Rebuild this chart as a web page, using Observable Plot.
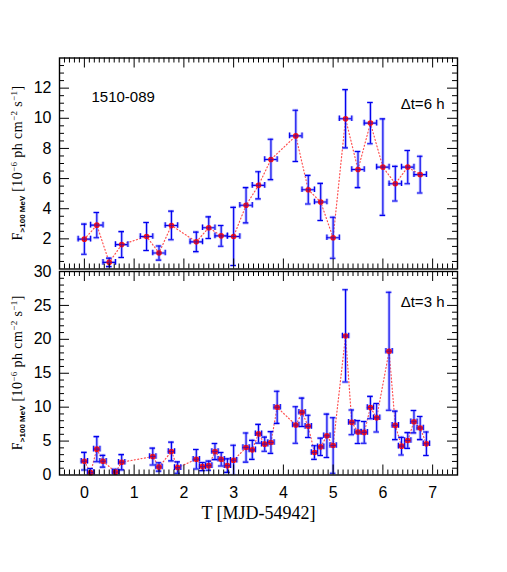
<!DOCTYPE html>
<html><head><meta charset="utf-8">
<script src="https://cdn.jsdelivr.net/npm/d3@7"></script>
<script src="https://cdn.jsdelivr.net/npm/@observablehq/plot@0.6"></script>
<style>
body{margin:0;background:#fff;}
#chart{position:relative;width:507px;height:572px;background:#fff;overflow:hidden;}
#chart svg{position:absolute;left:0;}
</style></head><body><div id="chart"></div>
<script>
// ---- Data: Δt = 6 h light curve (top panel) ----
const t6 = [0, 0.25, 0.5, 0.75, 1.25, 1.5, 1.75, 2.25, 2.5, 2.75, 3.0, 3.25, 3.5, 3.75, 4.25, 4.5, 4.75, 5.0, 5.25, 5.5, 5.75, 6.0, 6.25, 6.5, 6.75];
const f6 = [1.98, 2.91, 0.44, 1.62, 2.16, 1.06, 2.89, 1.80, 2.74, 2.20, 2.16, 4.23, 5.55, 7.27, 8.83, 5.26, 4.45, 2.07, 9.97, 6.60, 9.68, 6.76, 5.66, 6.76, 6.26];
const e6 = [1.00, 0.84, 0.28, 0.86, 0.93, 0.47, 0.95, 0.65, 0.72, 0.69, 1.93, 1.17, 0.90, 1.34, 1.70, 0.95, 1.23, 1.36, 1.93, 1.20, 1.37, 3.20, 1.15, 1.10, 1.22];
const halfBin6 = 0.125;

// ---- Data: Δt = 3 h light curve (bottom panel) ----
const t3 = [0, 0.125, 0.25, 0.375, 0.625, 0.75, 1.375, 1.5, 1.75, 1.875, 2.25, 2.375, 2.5, 2.625, 2.75, 2.875, 3.0, 3.25, 3.375, 3.5, 3.625, 3.75, 3.875, 4.25, 4.375, 4.5, 4.625, 4.75, 4.875, 5.0, 5.25, 5.375, 5.5, 5.625, 5.75, 5.875, 6.125, 6.25, 6.375, 6.5, 6.625, 6.75, 6.875];
const f3 = [2.03, 0.35, 3.81, 2.03, 0.44, 1.88, 2.72, 1.19, 3.46, 1.09, 2.32, 1.24, 1.38, 3.46, 2.32, 1.38, 2.18, 4.05, 3.71, 6.08, 4.55, 4.79, 9.98, 7.37, 9.24, 7.17, 3.31, 4.15, 5.78, 4.35, 20.5, 7.76, 6.33, 6.28, 9.94, 8.45, 18.24, 7.31, 4.25, 5.09, 7.86, 6.92, 4.60];
const e3 = [1.3, 0.6, 1.85, 0.87, 0.4, 1.13, 1.24, 0.62, 1.38, 0.84, 1.43, 0.6, 0.67, 1.19, 1.0, 1.0, 2.2, 2.15, 1.4, 1.38, 1.04, 1.6, 2.37, 2.7, 2.1, 1.64, 1.0, 1.28, 3.2, 4.1, 6.8, 1.83, 1.68, 1.6, 1.65, 2.1, 8.7, 2.1, 1.3, 1.16, 1.65, 1.7, 1.73];
const halfBin3 = 0.0625;

// ---- Axes / labels ----
const xDomain = [-0.5, 7.5];
const xTickLabels = [0, 1, 2, 3, 4, 5, 6, 7];
const yDomainTop = [0, 14];
const yTickLabelsTop = [2, 4, 6, 8, 10, 12];
const yDomainBottom = [0, 30];
const yTickLabelsBottom = [0, 5, 10, 15, 20, 25, 30];
const sourceName = "1510-089";
const binLabelTop = "Δt=6 h";
const binLabelBottom = "Δt=3 h";
const xTitle = "T [MJD-54942]";

const W = 507, ML = 59, MR = 50;
const SANS = "'Liberation Sans', Arial, Helvetica, sans-serif";
const SERIF = "'Liberation Serif', 'Times New Roman', serif";

const crossSymbol = {
  draw(ctx, size) {
    const r = Math.sqrt(size / Math.PI);
    ctx.moveTo(-r, 0); ctx.lineTo(r, 0);
    ctx.moveTo(0, -r); ctx.lineTo(0, r);
  }
};

function panel({t, f, e, hw, yDomain, yMajorStep, yMinorStep, yLabels, height, marginTop, marginBottom, note, topNoteDy, name, showX}) {
  const data = t.map((x, i) => ({x, y: f[i], lo: f[i] - e[i], hi: f[i] + e[i], x1: x - hw, x2: x + hw}));
  const fw = W - ML - MR, fh = height - marginTop - marginBottom;
  const xMajor = xTickLabels;
  const xMinor = d3.range(-4, 75).filter(k => k % 10 !== 0).map(k => k / 10);
  const yMajor = d3.range(yDomain[0] + yMajorStep, yDomain[1] - 1e-9, yMajorStep);
  const yMinor = d3.range(yDomain[0] + yMinorStep, yDomain[1] - 1e-9, yMinorStep)
    .filter(v => Math.abs(v / yMajorStep - Math.round(v / yMajorStep)) > 1e-6);

  const cap = 2.8;
  const bars = (style) => [
    Plot.ruleX(data, {x: "x", y1: "lo", y2: "hi", clip: true, ...style}),
    Plot.ruleY(data, {y: "y", x1: "x1", x2: "x2", clip: true, ...style}),
    Plot.ruleY(data, {y: "lo", x1: "x", x2: "x", insetLeft: -cap, insetRight: -cap, clip: true, ...style}),
    Plot.ruleY(data, {y: "hi", x1: "x", x2: "x", insetLeft: -cap, insetRight: -cap, clip: true, ...style}),
    Plot.ruleX(data, {x: "x1", y1: "y", y2: "y", insetTop: -cap, insetBottom: -cap, clip: true, ...style}),
    Plot.ruleX(data, {x: "x2", y1: "y", y2: "y", insetTop: -cap, insetBottom: -cap, clip: true, ...style})
  ];
  const tk = {stroke: "black", strokeWidth: 1};
  const marks = [
    Plot.line(data, {x: "x", y: "y", stroke: "#ff5050", strokeWidth: 1.2, strokeDasharray: "1,2.4", strokeLinecap: "round"}),
    ...bars({stroke: "#8080ff", strokeOpacity: 0.5, strokeWidth: 3}),
    ...bars({stroke: "#0000ee", strokeWidth: 1.1}),
    Plot.dot(data, {x: "x", y: "y", r: 2.8, fill: "#ff1010", stroke: "none"}),
    Plot.dot(data, {x: "x", y: "y", r: 2.4, symbol: crossSymbol, fill: "none", stroke: "#6a0a8a", strokeWidth: 1.1}),
    Plot.tickX(xMajor, {x: d => d, insetTop: fh - 10, ...tk}),
    Plot.tickX(xMajor, {x: d => d, insetBottom: fh - 10, ...tk}),
    Plot.tickX(xMinor, {x: d => d, insetTop: fh - 5, ...tk}),
    Plot.tickX(xMinor, {x: d => d, insetBottom: fh - 5, ...tk}),
    Plot.tickY(yMajor, {y: d => d, insetRight: fw - 10, ...tk}),
    Plot.tickY(yMajor, {y: d => d, insetLeft: fw - 10, ...tk}),
    Plot.tickY(yMinor, {y: d => d, insetRight: fw - 5, ...tk}),
    Plot.tickY(yMinor, {y: d => d, insetLeft: fw - 5, ...tk}),
    Plot.frame({stroke: "black", strokeWidth: 1.4}),
    Plot.axisY({ticks: yLabels, anchor: "left", tickSize: 0, tickPadding: 8, label: null, fontSize: 16, fontFamily: SANS}),
    Plot.text([note], {frameAnchor: "top-right", textAnchor: "end", dx: -13, dy: topNoteDy, fontSize: 15, fontFamily: SANS, fill: "black"})
  ];
  if (name) marks.push(Plot.text([name], {frameAnchor: "top-left", textAnchor: "start", dx: 32, dy: 33, fontSize: 15, fontFamily: SANS, fill: "black"}));
  if (showX) {
    marks.push(Plot.axisX({ticks: xTickLabels, anchor: "bottom", tickSize: 0, tickPadding: 12, label: null, fontSize: 16, fontFamily: SANS}));
    marks.push(Plot.text([xTitle], {frameAnchor: "bottom", dy: 43.5, fontSize: 18, fontFamily: SERIF, fill: "black"}));
  }
  const svg = Plot.plot({
    width: W, height, marginLeft: ML, marginRight: MR, marginTop, marginBottom,
    x: {domain: xDomain, ...(showX ? {} : {axis: null})},
    y: {domain: yDomain},
    style: {background: "transparent", fontFamily: SANS, fontSize: "16px", overflow: "visible", color: "black"},
    marks
  });
  // rotated y-axis title with sub/superscripts
  const cy = (marginTop + height - marginBottom) / 2;
  const txt = d3.select(svg).append("text")
    .attr("transform", `translate(21.5,${cy}) rotate(-90)`)
    .attr("text-anchor", "middle")
    .attr("font-family", SERIF).attr("font-size", 14).attr("letter-spacing", 0.4).attr("fill", "black");
  txt.append("tspan").text("F");
  txt.append("tspan").attr("font-size", 8).attr("font-weight", "bold").attr("font-family", SANS).attr("letter-spacing", 0).attr("dy", 3).text(">100 MeV");
  txt.append("tspan").attr("dy", -3).text(" [10");
  txt.append("tspan").attr("font-size", 9).attr("dy", -5).text("−6");
  txt.append("tspan").attr("dy", 5).text(" ph cm");
  txt.append("tspan").attr("font-size", 9).attr("dy", -5).text("−2");
  txt.append("tspan").attr("dy", 5).text(" s");
  txt.append("tspan").attr("font-size", 9).attr("dy", -5).text("−1");
  txt.append("tspan").attr("dy", 5).text("]");
  return svg;
}

const topPanel = panel({t: t6, f: f6, e: e6, hw: halfBin6, yDomain: yDomainTop, yMajorStep: 2, yMinorStep: 0.5,
  yLabels: yTickLabelsTop, height: 280, marginTop: 57.5, marginBottom: 11.5, note: binLabelTop, topNoteDy: 40, name: sourceName, showX: false});
topPanel.style.top = "0px";
const bottomPanel = panel({t: t3, f: f3, e: e3, hw: halfBin3, yDomain: yDomainBottom, yMajorStep: 5, yMinorStep: 1,
  yLabels: yTickLabelsBottom, height: 312, marginTop: 11, marginBottom: 97.5, note: binLabelBottom, topNoteDy: 25, name: null, showX: true});
bottomPanel.style.top = "260px";
const chart = document.getElementById("chart");
chart.appendChild(topPanel);
chart.appendChild(bottomPanel);
</script></body></html>
